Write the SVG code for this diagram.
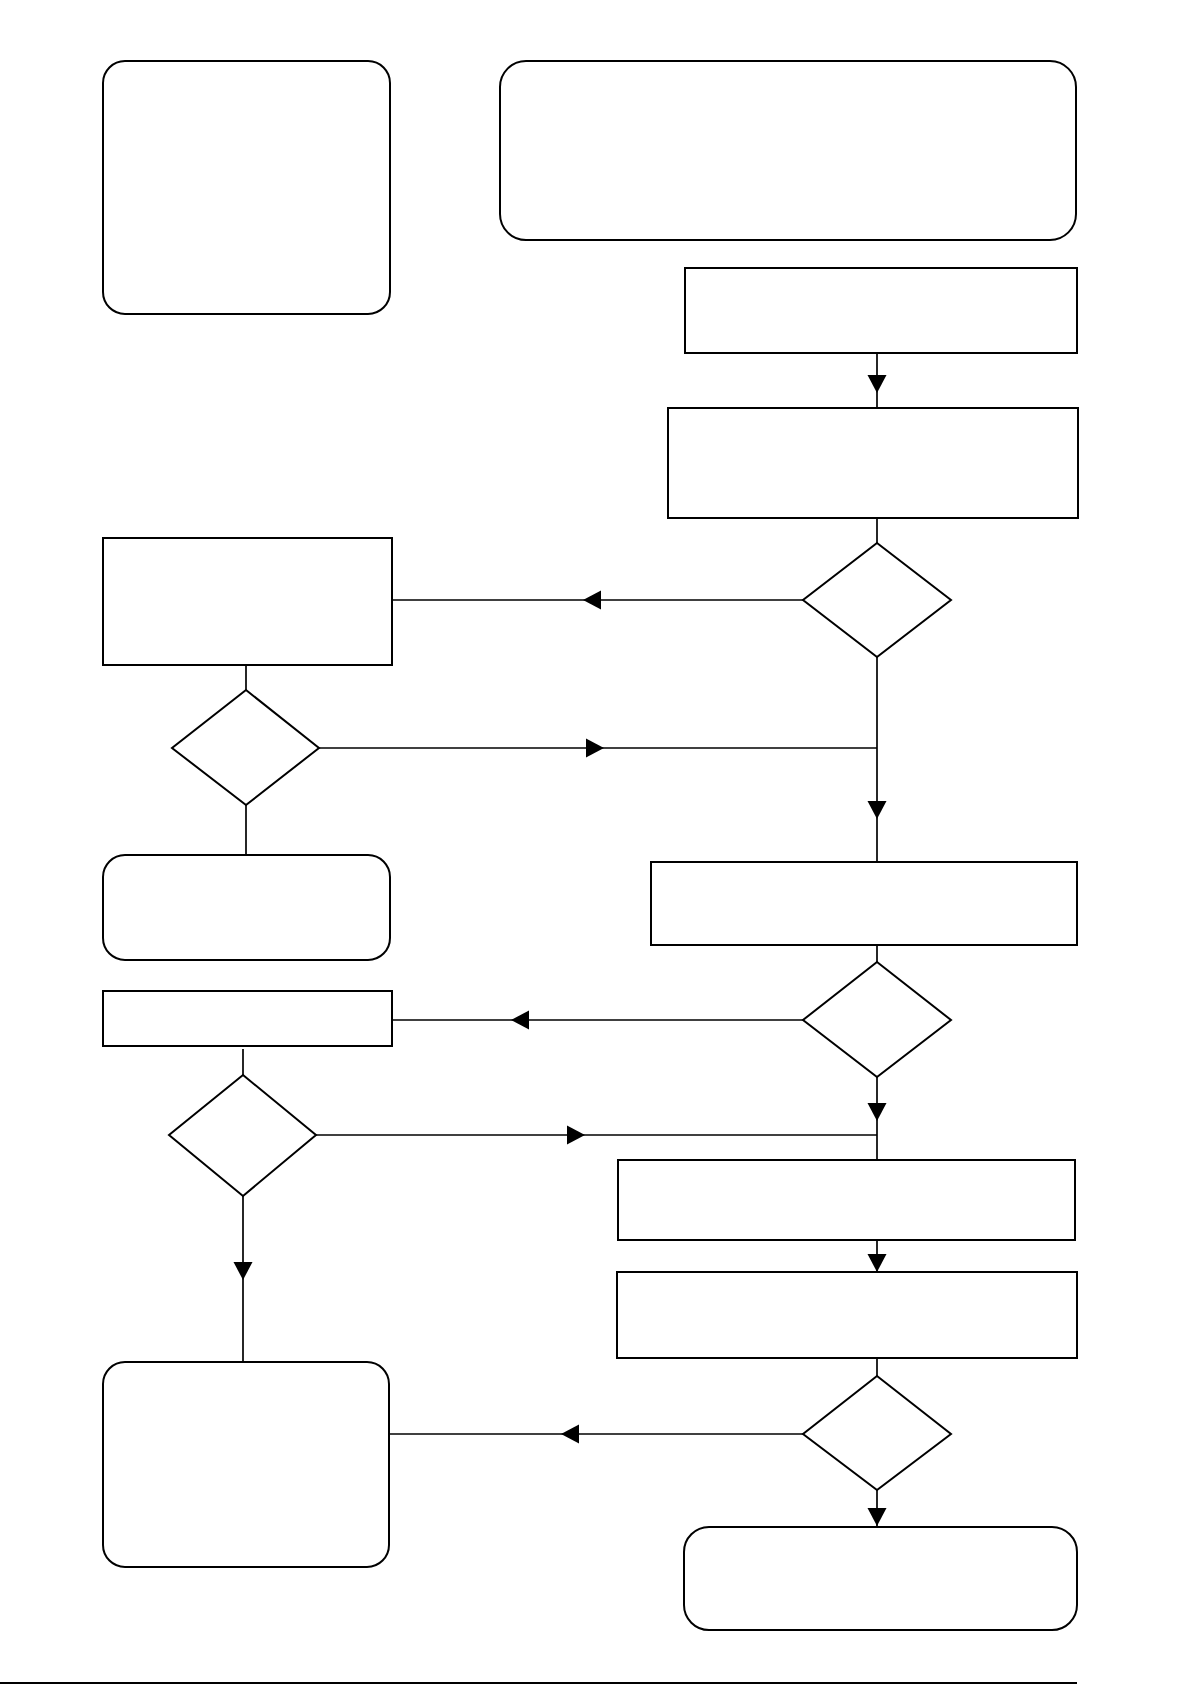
<svg xmlns="http://www.w3.org/2000/svg" xmlns:xlink="http://www.w3.org/1999/xlink" width="1192" height="1685" viewBox="0 0 1192 1685">
<style>
.n{fill:#fff;stroke:#000;stroke-width:2}
.c{fill:none;stroke:#000;stroke-width:1.7}
.a{fill:#000;stroke:none}
</style>
<defs>
<path id="ah" d="M0,0 L-18,-9.5 L-18,9.5 Z"/>
</defs>
<rect width="1192" height="1685" fill="#fff"/>
<g id="connectors">
<path class="c" d="M877,353 V408"/>
<path class="c" d="M877,518 V543"/>
<path class="c" d="M803,600 H392"/>
<path class="c" d="M877,657 V862"/>
<path class="c" d="M246,665 V690"/>
<path class="c" d="M319,748 H877"/>
<path class="c" d="M246,805 V855"/>
<path class="c" d="M877,945 V962"/>
<path class="c" d="M803,1020 H392"/>
<path class="c" d="M243,1049 V1075"/>
<path class="c" d="M316,1135 H877"/>
<path class="c" d="M877,1077 V1160"/>
<path class="c" d="M877,1240 V1272"/>
<path class="c" d="M877,1358 V1376"/>
<path class="c" d="M803,1434 H389"/>
<path class="c" d="M243,1196 V1362"/>
<path class="c" d="M877,1490 V1527"/>
<path class="c" style="stroke-width:2" d="M0,1683 H1077"/>
<use class="a" xlink:href="#ah" transform="translate(877,393) rotate(90)"/>
<use class="a" xlink:href="#ah" transform="translate(583,600) rotate(180)"/>
<use class="a" xlink:href="#ah" transform="translate(877,819) rotate(90)"/>
<use class="a" xlink:href="#ah" transform="translate(604,748)"/>
<use class="a" xlink:href="#ah" transform="translate(511,1020) rotate(180)"/>
<use class="a" xlink:href="#ah" transform="translate(585,1135)"/>
<use class="a" xlink:href="#ah" transform="translate(877,1121) rotate(90)"/>
<use class="a" xlink:href="#ah" transform="translate(877,1272) rotate(90)"/>
<use class="a" xlink:href="#ah" transform="translate(561,1434) rotate(180)"/>
<use class="a" xlink:href="#ah" transform="translate(243,1280) rotate(90)"/>
<use class="a" xlink:href="#ah" transform="translate(877,1526) rotate(90)"/>
</g>
<g id="n1"><rect class="n" x="103" y="61" width="287" height="253" rx="22" ry="22"/></g>
<g id="n2"><rect class="n" x="500" y="61" width="576" height="179" rx="26" ry="26"/></g>
<g id="n3"><rect class="n" x="685" y="268" width="392" height="85"/></g>
<g id="n4"><rect class="n" x="668" y="408" width="410" height="110"/></g>
<g id="d1"><polygon class="n" points="877,543 951,600 877,657 803,600"/></g>
<g id="n5"><rect class="n" x="103" y="538" width="289" height="127"/></g>
<g id="d2"><polygon class="n" points="246,690 319,748 246,805 172,748"/></g>
<g id="n6"><rect class="n" x="103" y="855" width="287" height="105" rx="22" ry="22"/></g>
<g id="n7"><rect class="n" x="651" y="862" width="426" height="83"/></g>
<g id="d3"><polygon class="n" points="877,962 951,1020 877,1077 803,1020"/></g>
<g id="n8"><rect class="n" x="103" y="991" width="289" height="55"/></g>
<g id="d4"><polygon class="n" points="243,1075 316,1135 243,1196 169,1135"/></g>
<g id="n9"><rect class="n" x="618" y="1160" width="457" height="80"/></g>
<g id="n10"><rect class="n" x="617" y="1272" width="460" height="86"/></g>
<g id="d5"><polygon class="n" points="877,1376 951,1434 877,1490 803,1434"/></g>
<g id="n11"><rect class="n" x="103" y="1362" width="286" height="205" rx="22" ry="22"/></g>
<g id="n12"><rect class="n" x="684" y="1527" width="393" height="103" rx="25" ry="25"/></g>
</svg>
